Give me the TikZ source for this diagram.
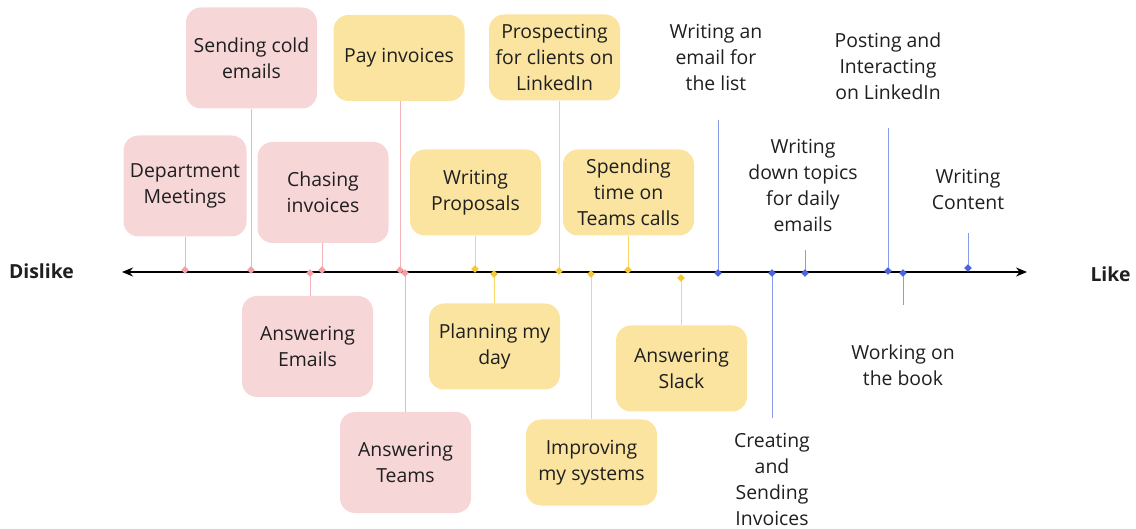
\documentclass[tikz,border=0pt]{standalone}
\usepackage{fontspec}
\setmainfont{Open Sans}
\usetikzlibrary{shapes.geometric,arrows.meta}
\definecolor{pinkfill}{HTML}{F7D6D8}
\definecolor{pinkline}{HTML}{F2B3B9}
\definecolor{yelfill}{HTML}{FAE4A0}
\definecolor{yelline}{HTML}{F5C836}
\definecolor{blueline}{HTML}{4A64E0}
\definecolor{txt}{HTML}{1F1F1F}
\begin{document}
\begin{tikzpicture}[x=1pt,y=-1pt,
 every node/.style={font=\fontsize{19.4}{26}\selectfont, text=txt},
 box/.style={rounded corners=15pt, align=center, inner sep=0pt, minimum width=131pt},
 pbox/.style={box, fill=pinkfill, minimum height=101pt},
 ybox/.style={box, fill=yelfill, minimum height=86pt},
 btext/.style={align=center, inner sep=0pt},
 mk/.style={diamond, inner sep=0pt, minimum size=7.5pt, draw=none},
 pmk/.style={mk, fill=pinkline!90!red},
 ymk/.style={mk, fill=yelline},
 bmk/.style={mk, fill=blueline},
 pl/.style={draw=pinkline, line width=1pt},
 yl/.style={draw=yelline!75!white, line width=1pt},
 bl/.style={draw=blueline!65!white, line width=1pt},
 axis/.style={draw=black, line width=1.6pt, {Stealth[length=11pt,width=9pt]}-{Stealth[length=11pt,width=9pt]}}
]
\useasboundingbox (0,0) rectangle (1136,529);

% axis
\node[font=\fontsize{19.4}{26}\selectfont\bfseries] (dislike) at (41.5,271) {Dislike};
\node[font=\fontsize{19.4}{26}\selectfont\bfseries] (like) at (1110.5,274) {Like};
\coordinate (axL) at (122,272);
\coordinate (axR) at (1027,272);
\draw[axis] (axL) -- (axR);

% boxes
\node[pbox, minimum width=123pt] (dept) at (185,186) {Department\\Meetings};
\node[pbox] (cold) at (251.5,58) {Sending cold\\emails};
\node[pbox] (chase) at (323,192.5) {Chasing\\invoices};
\node[ybox] (pay) at (399,58) {Pay invoices};
\node[pbox] (email) at (307.5,346.5) {Answering\\Emails};
\node[pbox] (teams) at (405.5,462.5) {Answering\\Teams};
\node[ybox] (prop) at (475.5,192.5) {Writing\\Proposals};
\node[ybox] (plan) at (494.5,346.5) {Planning my\\day};
\node[ybox] (prosp) at (554.5,57.5) {Prospecting\\for clients on\\LinkedIn};
\node[ybox] (spend) at (628.5,192.5) {Spending\\time on\\Teams calls};
\node[ybox] (improve) at (591.5,462.5) {Improving\\my systems};
\node[ybox] (slack) at (681.5,368.5) {Answering\\Slack};

% blue texts
\node[btext] (list) at (716,57) {Writing an\\email for\\the list};
\node[btext] (topics) at (803,185.5) {Writing\\down topics\\for daily\\emails};
\node[btext] (linked) at (888,66) {Posting and\\Interacting\\on LinkedIn};
\node[btext] (content) at (968,189) {Writing\\Content};
\node[btext] (invoice) at (772,479) {Creating\\and\\Sending\\Invoices};
\node[btext] (book) at (903,365) {Working on\\the book};

% markers
\node[pmk] (m-dept) at (185,270) {};
\node[pmk] (m-cold) at (251,270) {};
\node[pmk] (m-chase) at (322,270) {};
\node[pmk] (m-pay) at (400,270) {};
\node[pmk] (m-email) at (310,273) {};
\node[pmk] (m-teams) at (405,273) {};
\node[ymk] (m-prop) at (475,269) {};
\node[ymk] (m-plan) at (494,274) {};
\node[ymk] (m-prosp) at (559,271) {};
\node[ymk] (m-spend) at (628,270) {};
\node[ymk] (m-improve) at (591,274) {};
\node[ymk] (m-slack) at (681,278) {};
\node[bmk] (m-list) at (718,273) {};
\node[bmk] (m-topics) at (805,273) {};
\node[bmk] (m-linked) at (888,271) {};
\node[bmk] (m-content) at (968,268) {};
\node[bmk] (m-invoice) at (772,273) {};
\node[bmk] (m-book) at (903,273) {};

% blue line ends
\coordinate (c-list) at (718,120);
\coordinate (c-topics) at (805,250);
\coordinate (c-linked) at (888,128);
\coordinate (c-content) at (968,233);
\coordinate (c-invoice) at (772,418);
\coordinate (c-book) at (903,305);

% connectors
\draw[pl] (m-dept.center) -- (m-dept.center |- dept.south);
\draw[pl] (m-cold.center) -- (m-cold.center |- cold.south);
\draw[pl] (m-chase.center) -- (m-chase.center |- chase.south);
\draw[pl] (m-pay.center) -- (m-pay.center |- pay.south);
\draw[pl] (m-email.center) -- (m-email.center |- email.north);
\draw[pl] (m-teams.center) -- (m-teams.center |- teams.north);
\draw[yl] (m-prop.center) -- (m-prop.center |- prop.south);
\draw[yl] (m-plan.center) -- (m-plan.center |- plan.north);
\draw[yl] (m-prosp.center) -- (m-prosp.center |- prosp.south);
\draw[yl] (m-spend.center) -- (m-spend.center |- spend.south);
\draw[yl] (m-improve.center) -- (m-improve.center |- improve.north);
\draw[yl] (m-slack.center) -- (m-slack.center |- slack.north);
\draw[bl] (m-list.center) -- (c-list);
\draw[bl] (m-topics.center) -- (c-topics);
\draw[bl] (m-linked.center) -- (c-linked);
\draw[bl] (m-content.center) -- (c-content);
\draw[bl] (m-invoice.center) -- (c-invoice);
\draw[bl] (m-book.center) -- (c-book);

% markers on top
\foreach \m/\s in {dept/pmk,cold/pmk,chase/pmk,pay/pmk,email/pmk,teams/pmk,prop/ymk,plan/ymk,prosp/ymk,spend/ymk,improve/ymk,slack/ymk,list/bmk,topics/bmk,linked/bmk,content/bmk,invoice/bmk,book/bmk}
  \node[\s] at (m-\m) {};
\end{tikzpicture}
\end{document}
